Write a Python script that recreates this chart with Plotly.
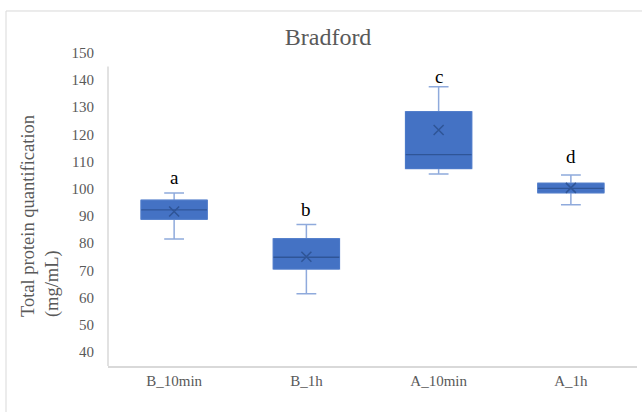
import plotly.graph_objects as go

categories = ["B_10min", "B_1h", "A_10min", "A_1h"]
lower_whisker = [81.5, 61.4, 105.4, 94.1]
q1 = [88.8, 70.5, 107.4, 98.5]
median = [92.2, 74.8, 112.5, 100.1]
q3 = [95.8, 81.6, 128.3, 102.0]
upper_whisker = [98.4, 86.8, 137.5, 105.0]
mean = [91.6, 75.0, 121.6, 100.3]
letters = ["a", "b", "c", "d"]
letter_y = [104.3, 92.5, 141.1, 111.7]
y_ticks = list(range(40, 151, 10))

FILL = "#4472C4"
WHISK = "#8FAADC"
DARK = "#2F5597"
GRAY = "#595959"
SERIF = "Liberation Serif"

fig = go.Figure()

# whiskers (light blue)
fig.add_trace(go.Box(
    x=categories, q1=q1, median=median, q3=q3,
    lowerfence=lower_whisker, upperfence=upper_whisker,
    width=0.5, whiskerwidth=0.3,
    fillcolor=FILL, line=dict(color=WHISK, width=1.5),
    boxpoints=False, hoverinfo="skip", showlegend=False,
))
# box body on top (no whiskers)
fig.add_trace(go.Box(
    x=categories, q1=q1, median=median, q3=q3,
    lowerfence=q1, upperfence=q3,
    width=0.5, whiskerwidth=0,
    fillcolor=FILL, line=dict(color="#4A78C8", width=1),
    boxpoints=False, hoverinfo="skip", showlegend=False,
))
# median lines
fig.add_trace(go.Scatter(
    x=categories, y=median, mode="markers",
    marker=dict(symbol="line-ew", size=47, line=dict(color=DARK, width=1.3)),
    hoverinfo="skip", showlegend=False,
))
# mean markers
fig.add_trace(go.Scatter(
    x=categories, y=mean, mode="markers",
    marker=dict(symbol="x-thin", size=10, line=dict(color=DARK, width=1.5)),
    hoverinfo="skip", showlegend=False,
))

annotations = []
for c, t, yv in zip(categories, letters, letter_y):
    annotations.append(dict(x=c, y=yv, xref="x", yref="y", text=t, showarrow=False,
                            font=dict(family=SERIF, size=19, color="black")))
annotations.append(dict(
    x=-0.1276, y=0.479, xref="paper", yref="paper",
    text="Total protein quantification<br>(mg/mL)", textangle=-90, align="left",
    showarrow=False, xanchor="center", yanchor="middle",
    font=dict(family=SERIF, size=18.5, color=GRAY),
))

shapes = [
    # outer frame
    dict(type="rect", xref="paper", yref="paper", x0=-0.1928, x1=1.02, y0=-0.16, y1=1.1306,
         line=dict(color="#D9D9D9", width=1), fillcolor="rgba(0,0,0,0)", layer="below"),
    # left axis line
    dict(type="line", xref="paper", yref="paper", x0=0, x1=0, y0=0, y1=0.954,
         line=dict(color="#D9D9D9", width=1.5)),
]

fig.update_layout(
    width=642, height=412,
    margin=dict(l=108, r=5, t=52, b=46),
    paper_bgcolor="white", plot_bgcolor="white",
    boxmode="overlay",
    title=dict(text="Bradford", x=0.511, y=0.91, xanchor="center", yanchor="middle",
               font=dict(family=SERIF, size=24, color=GRAY)),
    xaxis=dict(range=[-0.5, 3.5], showline=True, linecolor="#D9D9D9", linewidth=1.5,
               showgrid=False, zeroline=False, ticks="",
               tickfont=dict(family=SERIF, size=15, color=GRAY)),
    yaxis=dict(range=[34.82, 150.26], tickvals=y_ticks, showgrid=False, zeroline=False,
               showline=False, ticks="outside", ticklen=10, tickcolor="rgba(0,0,0,0)",
               tickfont=dict(family=SERIF, size=15, color=GRAY)),
    annotations=annotations,
    shapes=shapes,
)

fig.write_html(
    "out.html",
    config={"displayModeBar": False},
    post_script="document.body.style.margin='0';document.body.style.overflow='hidden';",
)
